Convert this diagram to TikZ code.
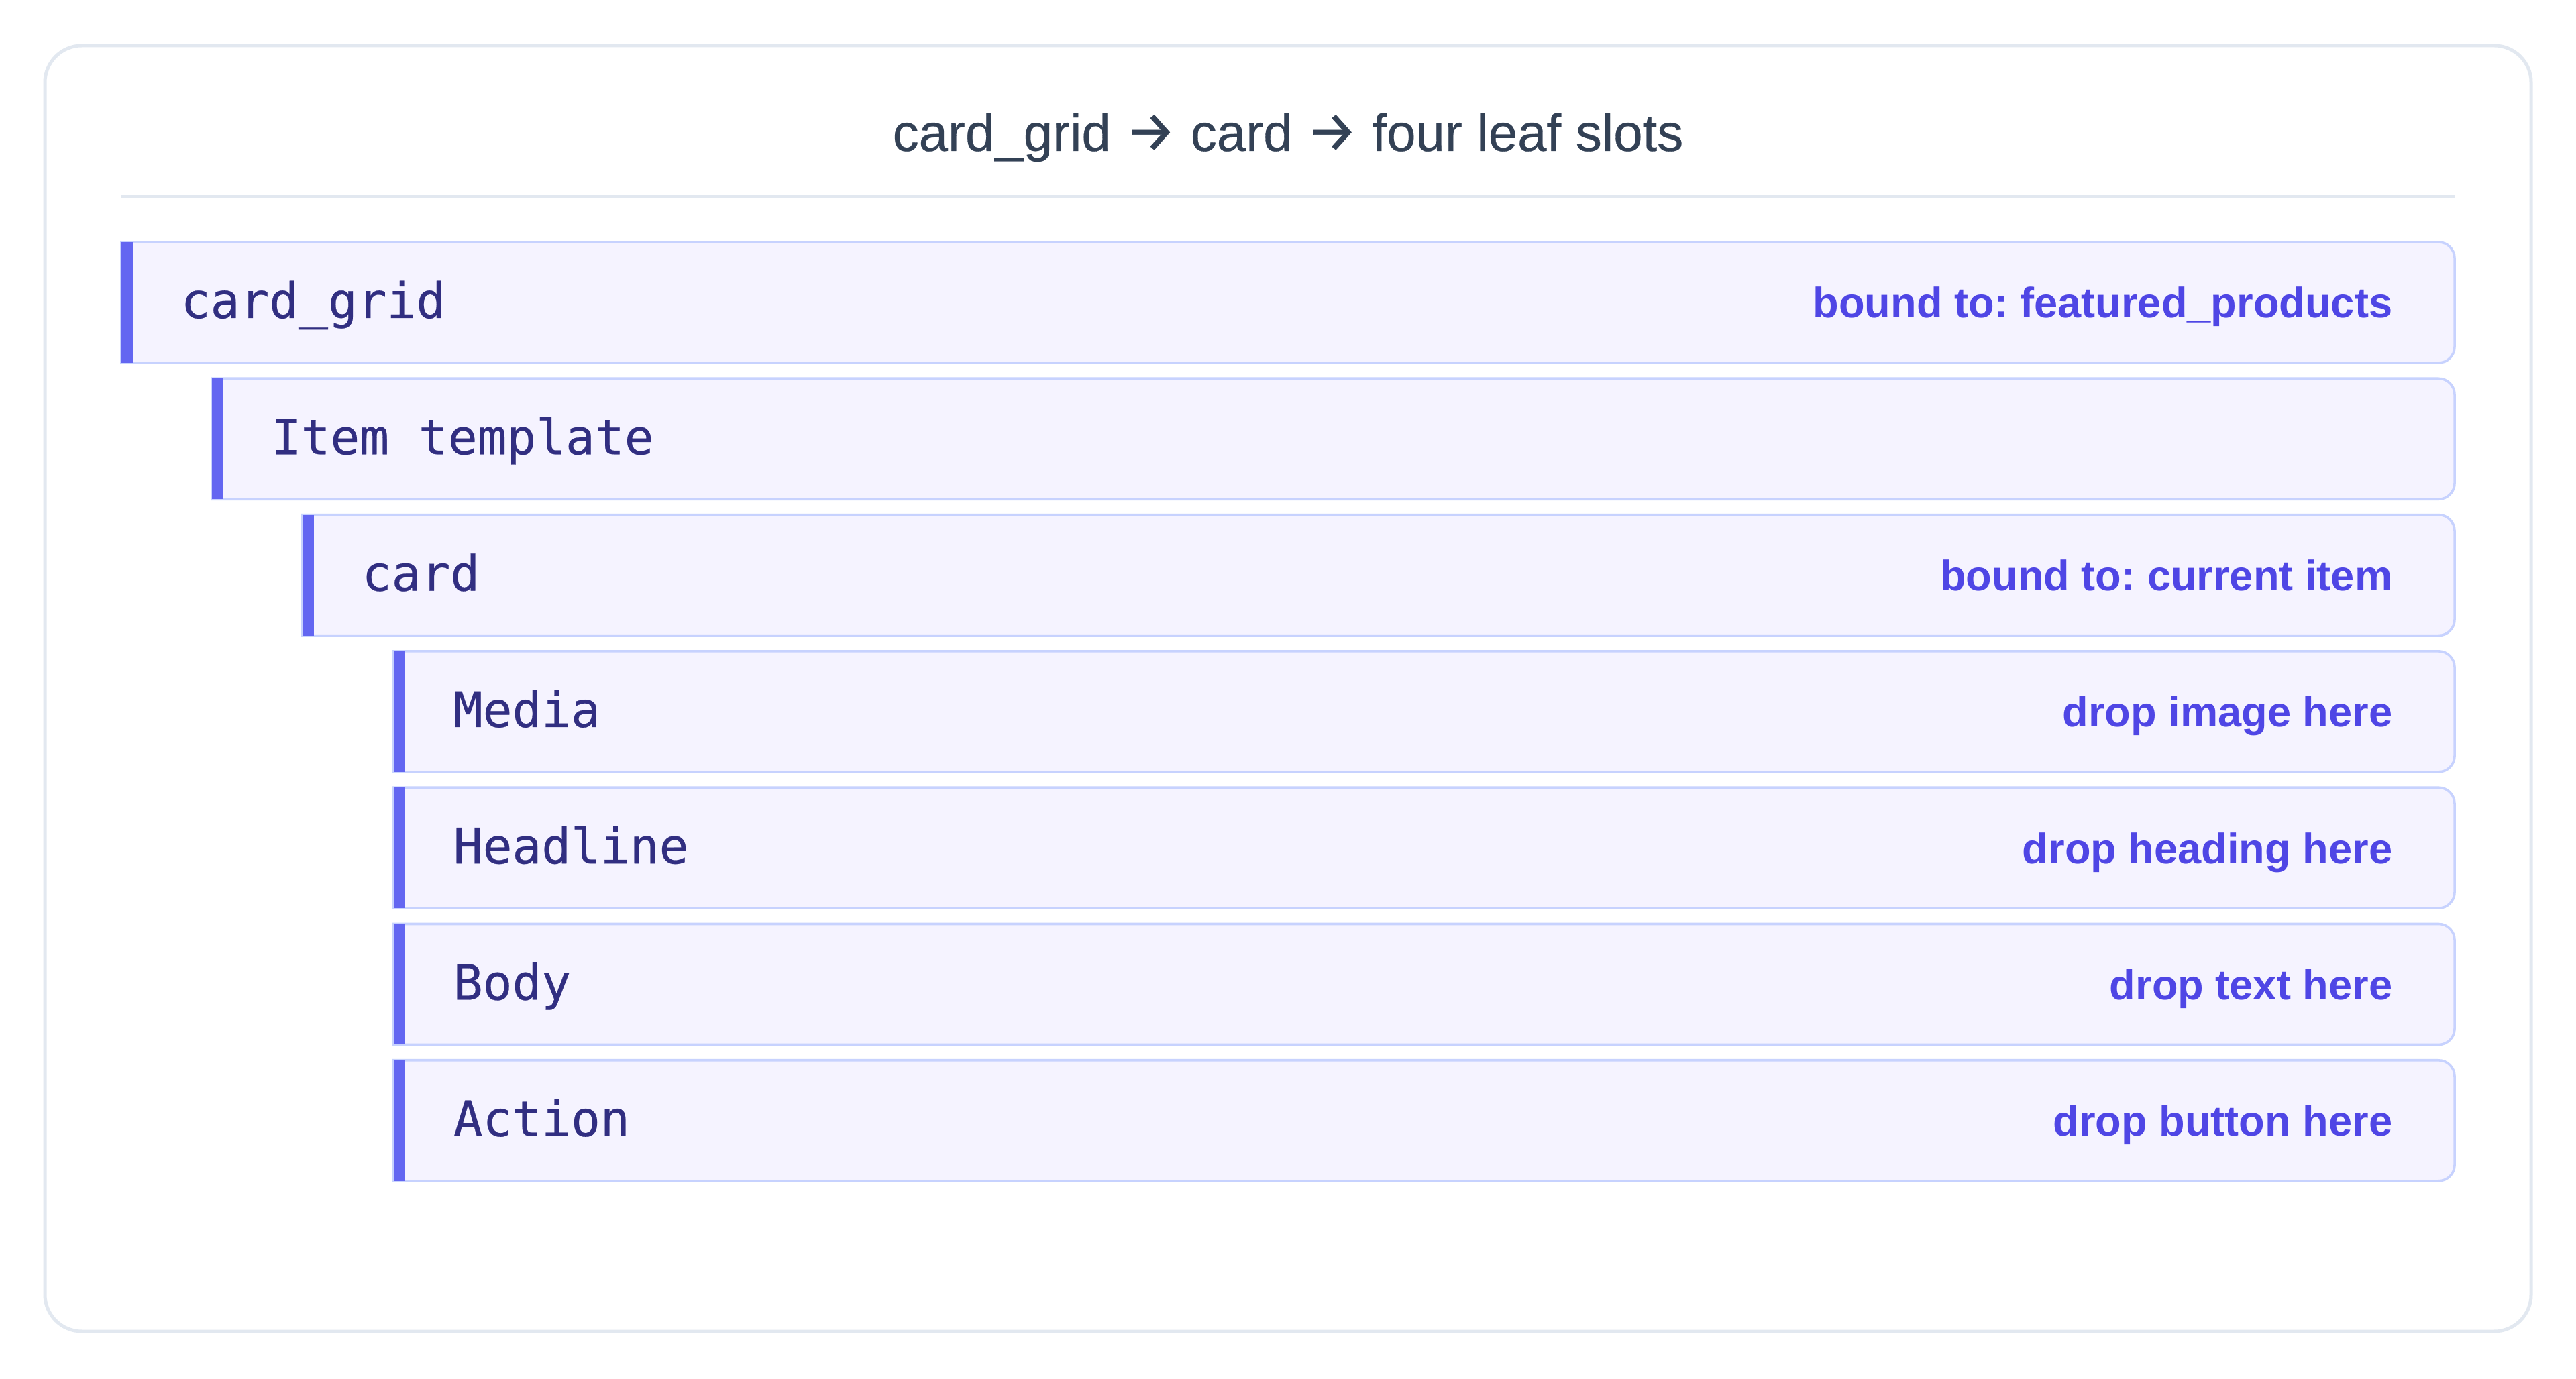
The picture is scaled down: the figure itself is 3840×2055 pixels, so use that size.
\documentclass[tikz,border=0pt]{standalone}
\usepackage{fontspec}
\setmainfont{Liberation Sans}
\newfontfamily\monof{DejaVu Sans Mono}[FakeBold=0.35]
\newfontfamily\titlef{Liberation Sans}[FakeBold=0.4]
\newfontfamily\arrowf{Fira Sans}[FakeBold=0.8]
\definecolor{outline}{HTML}{E2E8F0}
\definecolor{slotfillc}{HTML}{F5F3FF}
\definecolor{slotdrawc}{HTML}{C7D2FE}
\definecolor{accentc}{HTML}{6366F1}
\definecolor{monoc}{HTML}{312E81}
\definecolor{notec}{HTML}{4F46E5}
\definecolor{titlec}{HTML}{334155}
\newcommand\titlearrow{{\arrowf\fontsize{21pt}{24pt}\selectfont →}}
\tikzset{
  slotshape/.style={fill=slotfillc, draw=slotdrawc, line width=0.9pt},
  accentbar/.style={fill=accentc},
  monolabel/.style={font=\monof\fontsize{18.2pt}{22pt}\selectfont, text=monoc, inner sep=0pt},
  notelabel/.style={font=\bfseries\fontsize{15.8pt}{19pt}\selectfont, text=notec, inner sep=0pt},
  titlelabel/.style={font=\titlef\fontsize{19.5pt}{24pt}\selectfont, text=titlec, inner sep=0pt},
}
\newcommand\slotbox[4]{%
  \path[slotshape] (#2,#3-90) -- (#2,#3+90) -- (3635,#3+90)
     arc[start angle=90,end angle=0,radius=24] -- (3659,#3-66)
     arc[start angle=0,end angle=-90,radius=24] -- cycle;
  \fill[accentbar] (#2,#3-90) rectangle (#2+17,#3+90);
  \node[monolabel, anchor=base west] (#1) at (#2+88,#3-23) {#4};
}
\frenchspacing
\begin{document}
\begin{tikzpicture}[x=0.25pt,y=0.25pt]
\useasboundingbox (0,0) rectangle (3840,2055);
\fill[white] (0,0) rectangle (3840,2055);
\draw[draw=outline, line width=1.25pt, rounded corners=13.75pt] (67,70) rectangle (3773,1987);
\node[titlelabel, anchor=base] (title) at (1920,1830) {card\_grid \titlearrow{} card \titlearrow{} four leaf slots};
\coordinate (divL) at (181,1762);
\coordinate (divR) at (3659,1762);
\draw[draw=outline, line width=1pt] (divL) -- (divR);
\slotbox{grid}{181}{1604}{card\_grid}
\slotbox{item}{316}{1400.7}{Item template}
\slotbox{card}{451}{1197.4}{card}
\slotbox{media}{587}{994.1}{Media}
\slotbox{headline}{587}{790.8}{Headline}
\slotbox{body}{587}{587.5}{Body}
\slotbox{action}{587}{384.2}{Action}
\node[notelabel, anchor=base east] (gridnote) at (3567,1581) {bound to: featured\_products};
\node[notelabel, anchor=base east] (cardnote) at (3567,1174.4) {bound to: current item};
\node[notelabel, anchor=base east] (medianote) at (3567,971.1) {drop image here};
\node[notelabel, anchor=base east] (headlinenote) at (3567,767.8) {drop heading here};
\node[notelabel, anchor=base east] (bodynote) at (3567,564.5) {drop text here};
\node[notelabel, anchor=base east] (actionnote) at (3567,361.2) {drop button here};
\end{tikzpicture}
\end{document}
